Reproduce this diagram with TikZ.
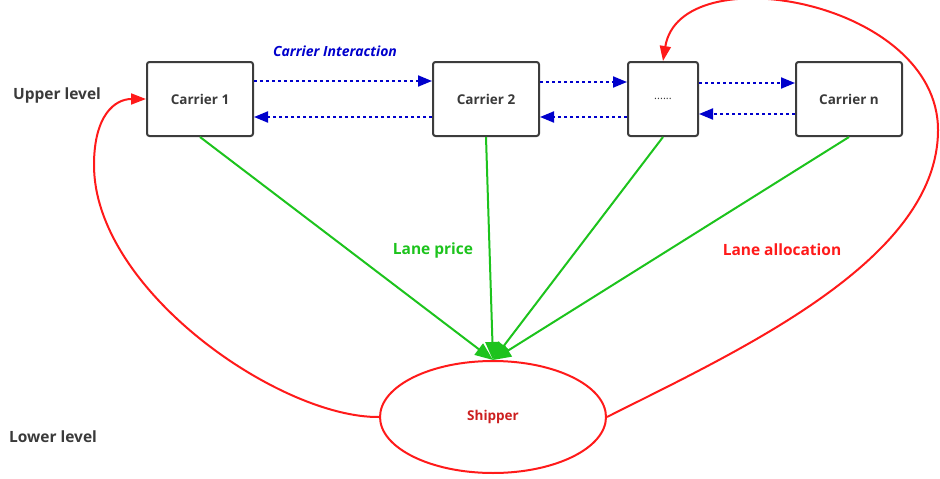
\documentclass[tikz,border=0pt]{standalone}
\usepackage{fontspec}
\setmainfont{Open Sans}
\usetikzlibrary{arrows.meta,shapes.geometric}
\definecolor{boxgray}{HTML}{3C3C3C}
\definecolor{textgray}{HTML}{3A3A3A}
\definecolor{iblue}{HTML}{0000CC}
\definecolor{lgreen}{HTML}{1DC31D}
\definecolor{lred}{HTML}{FF1A1A}
\definecolor{sred}{HTML}{CC1F1F}
\begin{document}
\begin{tikzpicture}[x=1pt, y=-1pt, node distance=286pt,
    carrier/.style={draw=boxgray, line width=2pt, rectangle, rounded corners=2.5pt, minimum width=106pt, minimum height=74pt, fill=white, text=textgray, font=\fontsize{13.5}{16}\selectfont\bfseries},
    talk/.style={-{Triangle[length=14pt,width=11pt]}, draw=iblue, line width=2pt, dash pattern=on 3pt off 3pt},
    price/.style={-{Triangle[length=18pt,width=14pt]}, draw=lgreen, line width=2pt},
    alloc/.style={-{Triangle[length=15pt,width=11pt]}, draw=lred, line width=2pt},
    level/.style={text=textgray, font=\fontsize{15.5}{18}\selectfont\bfseries}]
        \useasboundingbox (0,0) rectangle (940,479);

        \node[carrier] at (200,99) (c1) {Carrier 1};
        \node[carrier, right of=c1] (c2) {Carrier 2};
        \node[carrier, right of=c2, node distance=177pt, minimum width=70pt, font=\fontsize{11}{13}\selectfont] (dots) {......};
        \node[carrier, right of=dots, node distance=186pt] (cn) {Carrier n};
        \node[draw=lred, line width=2pt, ellipse, minimum width=226pt, minimum height=112pt, text=sred, font=\fontsize{13.5}{16}\selectfont\bfseries] at (493,417) (shipper) {Shipper};

        \node[level] at (57,95) (upper) {Upper level};
        \node[level] at (53,437) (lower) {Lower level};
        \node[text=iblue, font=\fontsize{14}{16}\selectfont\bfseries\itshape] at (335,51) (inter) {Carrier Interaction};
        \node[text=lgreen, font=\fontsize{15.5}{18}\selectfont\bfseries] at (433,250) (lprice) {Lane price};
        \node[text=lred, font=\fontsize{15.5}{18}\selectfont\bfseries] at (782,250) (lalloc) {Lane allocation};

        % carrier interaction
        \draw[talk] ([yshift=18pt]c1.east) -- ([yshift=18pt]c2.west);
        \draw[talk] ([yshift=-18pt]c2.west) -- ([yshift=-18pt]c1.east);
        \draw[talk] ([yshift=17pt]c2.east) -- ([yshift=17pt]dots.west);
        \draw[talk] ([yshift=-18pt]dots.west) -- ([yshift=-18pt]c2.east);
        \draw[talk] ([yshift=16pt]dots.east) -- ([yshift=16pt]cn.west);
        \draw[talk] ([yshift=-15pt]cn.west) -- ([yshift=-15pt]dots.east);

        % lane price
        \draw[price] (c1.south) -- (shipper.north);
        \draw[price] (c2.south) -- (shipper.north);
        \draw[price] (dots.south) -- (shipper.north);
        \draw[price] (cn.south) -- (shipper.north);

        % lane allocation
        \draw[alloc] (shipper.west) .. controls (280,418) and (94,290) .. (94,165) .. controls (94,115) and (115,99) .. (c1.west);
        \draw[alloc] (shipper.east) .. controls (740,350) and (938,260) .. (938,130) .. controls (938,0) and (680,-45) .. (dots.north);
    \end{tikzpicture}
\end{document}
